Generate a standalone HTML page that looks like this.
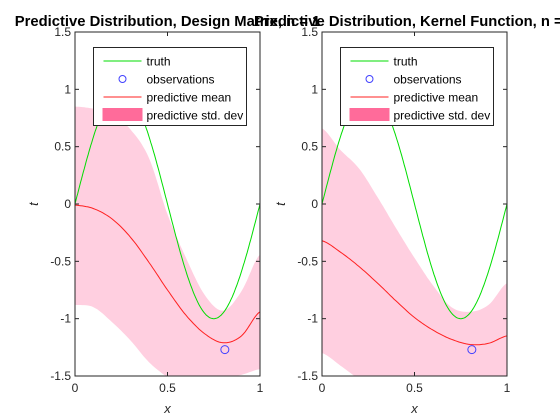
<!DOCTYPE html>
<html><head><meta charset="utf-8"><style>
html,body{margin:0;padding:0;background:#fff;width:560px;height:420px;overflow:hidden}
svg{display:block;font-family:"Liberation Sans",Arial,sans-serif}
</style></head><body>
<svg id="fig" width="560" height="420" xmlns="http://www.w3.org/2000/svg"></svg>
<script>
const xs = [0,0.1,0.2,0.3,0.4,0.5,0.6,0.7,0.8,0.9,1];
const leftMean = [-0.01,-0.04,-0.13,-0.29,-0.51,-0.75,-0.97,-1.13,-1.21,-1.15,-0.94];
const leftUpper = [0.85,0.83,0.78,0.65,0.4,-0.09,-0.47,-0.79,-0.93,-0.76,-0.44];
const leftLower = [-0.88,-0.9,-1.03,-1.19,-1.38,-1.51,-1.6,-1.58,-1.52,-1.49,-1.44];
const rightMean = [-0.32,-0.42,-0.545,-0.69,-0.845,-0.99,-1.1,-1.18,-1.225,-1.215,-1.15];
const rightUpper = [0.66,0.47,0.31,0.06,-0.21,-0.47,-0.71,-0.9,-0.94,-0.88,-0.69];
const rightLower = [-1.3,-1.41,-1.53,-1.65,-1.75,-1.8,-1.8,-1.75,-1.7,-1.65,-1.6];
const obsX = [0.81];
const obsT = [-1.27];
const xTicks = [0,0.5,1];
const xTickLabels = ['0','0.5','1'];
const yTicks = [-1.5,-1,-0.5,0,0.5,1,1.5];
const yTickLabels = ['-1.5','-1','-0.5','0','0.5','1','1.5'];
const titles = ['Predictive Distribution, Design Matrix, n = 1','Predictive Distribution, Kernel Function, n = 1'];

const NS='http://www.w3.org/2000/svg';
const fig=document.getElementById('fig');
function mk(tag,attrs,parent){const e=document.createElementNS(NS,tag);for(const k in attrs)e.setAttribute(k,attrs[k]);(parent||fig).appendChild(e);return e;}
function smooth(arr){const out=[];const n=arr.length;for(let i=0;i<n-1;i++){const p0=arr[Math.max(i-1,0)],p1=arr[i],p2=arr[i+1],p3=arr[Math.min(i+2,n-1)];for(let s=0;s<10;s++){const t=s/10;out.push([xs[i]+(xs[i+1]-xs[i])*t,0.5*((2*p1)+(-p0+p2)*t+(2*p0-5*p1+4*p2-p3)*t*t+(-p0+3*p1-3*p2+p3)*t*t*t)]);}}out.push([xs[n-1],arr[n-1]]);return out;}

const panels=[{x0:75,x1:260,mean:leftMean,up:leftUpper,lo:leftLower,id:'left'},{x0:322,x1:507,mean:rightMean,up:rightUpper,lo:rightLower,id:'right'}];
const y0=32,y1=376;
panels.forEach((p,pi)=>{
  const sx=v=>p.x0+(p.x1-p.x0)*v;
  const sy=v=>y1-(v+1.5)/3*(y1-y0);
  const g=mk('g',{});
  
  
  const cid='clip'+pi;
  const cp=mk('clipPath',{id:cid},g);mk('rect',{x:p.x0,y:y0,width:p.x1-p.x0,height:y1-y0},cp);
  const plot=mk('g',{'clip-path':'url(#'+cid+')'},g);
  const up=smooth(p.up),lo=smooth(p.lo);
  let d='M'+up.map(q=>sx(q[0]).toFixed(1)+','+sy(q[1]).toFixed(1)).join('L');
  d+='L'+lo.slice().reverse().map(q=>sx(q[0]).toFixed(1)+','+sy(q[1]).toFixed(1)).join('L')+'Z';
  const band=mk('path',{d:d,fill:'#ffcfe0',stroke:'none'},plot);
  
  
  let td='';for(let i=0;i<=200;i++){const x=i/200;td+=(i?'L':'M')+sx(x).toFixed(1)+','+sy(Math.sin(2*Math.PI*x)).toFixed(1);}
  const tr=mk('path',{d:td,fill:'none',stroke:'#00dd00','stroke-width':1},plot);
  
  
  const mn=smooth(p.mean);
  const ml=mk('path',{d:'M'+mn.map(q=>sx(q[0]).toFixed(1)+','+sy(q[1]).toFixed(1)).join('L'),fill:'none',stroke:'#ff2020','stroke-width':1},plot);
  
  
  obsX.forEach((ox,i)=>{const c=mk('circle',{cx:sx(ox),cy:sy(obsT[i]),r:4,fill:'none',stroke:'#4040ff','stroke-width':1},plot);
    
    });
  mk('rect',{x:p.x0,y:y0,width:p.x1-p.x0,height:y1-y0,fill:'none',stroke:'#262626','stroke-width':1},g);
  xTicks.forEach((v,i)=>{const x=sx(v);mk('line',{x1:x,y1:y1,x2:x,y2:y1-4,stroke:'#262626'},g);mk('line',{x1:x,y1:y0,x2:x,y2:y0+4,stroke:'#262626'},g);
    const t=mk('text',{x:x,y:y1+16,'font-size':12,fill:'#262626','text-anchor':'middle'},g);t.textContent=xTickLabels[i];
    });
  yTicks.forEach((v,i)=>{const y=sy(v);mk('line',{x1:p.x0,y1:y,x2:p.x0+4,y2:y,stroke:'#262626'},g);mk('line',{x1:p.x1,y1:y,x2:p.x1-4,y2:y,stroke:'#262626'},g);
    const t=mk('text',{x:p.x0-4,y:y+4,'font-size':12,fill:'#262626','text-anchor':'end'},g);t.textContent=yTickLabels[i];
    });
  const xl=mk('text',{x:(p.x0+p.x1)/2,y:413,'font-size':13,'font-style':'italic',fill:'#262626','text-anchor':'middle'},g);xl.textContent='x';
  
  const yl=mk('text',{x:0,y:0,'font-size':13,'font-style':'italic',fill:'#262626','text-anchor':'middle',transform:'translate('+(p.x0-37)+','+sy(0)+') rotate(-90)'},g);yl.textContent='t';
  
  const lx=p.x0+18.5,ly=47.5;
  const lg=mk('g',{},g);
  
  
  mk('rect',{x:lx,y:ly,width:153,height:78,fill:'#fff',stroke:'#262626','stroke-width':1},lg);
  const rows=[61,79,97,115];const labels=['truth','observations','predictive mean','predictive std. dev'];
  mk('line',{x1:lx+10,y1:rows[0],x2:lx+48,y2:rows[0],stroke:'#00dd00'},lg);
  mk('circle',{cx:lx+29,cy:rows[1],r:3.5,fill:'none',stroke:'#4040ff'},lg);
  mk('line',{x1:lx+10,y1:rows[2],x2:lx+48,y2:rows[2],stroke:'#ff2020'},lg);
  mk('rect',{x:lx+9,y:rows[3]-7,width:40,height:13,fill:'#ff6b9a'},lg);
  labels.forEach((s,i)=>{const t=mk('text',{x:lx+53,y:rows[i]+4.5,'font-size':12,fill:'#000'},lg);t.textContent=s;
    });
  const tt=mk('text',{x:(p.x0+p.x1)/2,y:26,'font-size':14.8,'font-weight':'bold',fill:'#000','text-anchor':'middle'},fig);tt.textContent=titles[pi];
  
});
</script>
</body></html>
